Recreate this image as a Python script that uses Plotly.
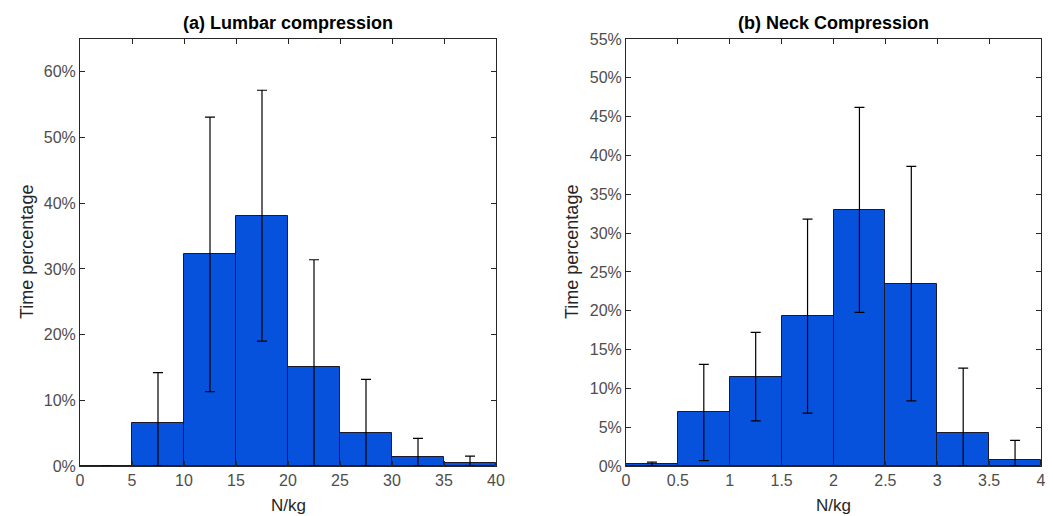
import plotly.graph_objects as go

# Panel (a) Lumbar compression
lumbar_centers = [2.5, 7.5, 12.5, 17.5, 22.5, 27.5, 32.5, 37.5]
lumbar_pct = [0.0, 6.6, 32.2, 38.1, 15.1, 5.1, 1.3, 0.5]
lumbar_err = [0.0, 7.6, 20.9, 19.1, 16.3, 8.1, 2.9, 1.0]

# Panel (b) Neck compression
neck_centers = [0.25, 0.75, 1.25, 1.75, 2.25, 2.75, 3.25, 3.75]
neck_pct = [0.2, 6.9, 11.5, 19.3, 33.0, 23.5, 4.3, 0.8]
neck_err = [0.3, 6.2, 5.7, 12.5, 13.2, 15.1, 8.3, 2.5]

lumbar_xticks = [0, 5, 10, 15, 20, 25, 30, 35, 40]
neck_xticks = [0, 0.5, 1, 1.5, 2, 2.5, 3, 3.5, 4]
neck_xticklabels = ["0", "0.5", "1", "1.5", "2", "2.5", "3", "3.5", "4"]
lumbar_yticks = [0, 10, 20, 30, 40, 50, 60]
lumbar_yticklabels = ["0%", "10%", "20%", "30%", "40%", "50%", "60%"]
neck_yticks = [0, 5, 10, 15, 20, 25, 30, 35, 40, 45, 50, 55]
neck_yticklabels = ["0%", "5%", "10%", "15%", "20%", "25%", "30%", "35%",
                    "40%", "45%", "50%", "55%"]

BAR = "#0752dc"
FONT = "Liberation Sans, Arial, sans-serif"
TICKC = "#4d4d4d"
AXC = "#262626"

# page body has an 8px default margin; size the figure to fit the window
OFF = 8
W, H = 1053 - OFF, 516 - OFF

def px(x):
    return (x - OFF) / W

def py(y):
    return 1 - (y - OFF) / H

fig = go.Figure()

def add_panel(centers, vals, errs, width, xa, ya):
    minus = [min(e, v) for e, v in zip(errs, vals)]
    fig.add_trace(go.Bar(
        x=centers, y=vals, width=width,
        marker=dict(color=BAR, line=dict(color="#1a1a2a", width=1)),
        error_y=dict(type="data", array=errs, arrayminus=minus, visible=True,
                     color="black", thickness=1.2, width=5),
        xaxis=xa, yaxis=ya, showlegend=False, hoverinfo="skip",
    ))

add_panel(lumbar_centers, lumbar_pct, lumbar_err, 5, "x", "y")
add_panel(neck_centers, neck_pct, neck_err, 0.5, "x2", "y2")

ax_common = dict(showgrid=False, zeroline=False, showline=True, linecolor=AXC,
                 linewidth=1, mirror="ticks", ticks="inside", ticklen=5,
                 tickcolor=AXC, automargin=False,
                 tickfont=dict(family=FONT, size=16, color=TICKC))

ydom = [py(466), py(39)]
fig.update_layout(
    template="none",
    width=W, height=H,
    margin=dict(l=0, r=0, t=0, b=0, autoexpand=False),
    paper_bgcolor="white", plot_bgcolor="white",
    bargap=0,
    xaxis=dict(domain=[px(80), px(496)], range=[0, 40], tickmode="array",
               tickvals=lumbar_xticks, ticktext=[str(t) for t in lumbar_xticks],
               anchor="y", **ax_common),
    yaxis=dict(domain=ydom, range=[0, 65], tickmode="array", tickvals=lumbar_yticks,
               ticktext=lumbar_yticklabels, anchor="x", **ax_common),
    xaxis2=dict(domain=[px(626), px(1041)], range=[0, 4], tickmode="array",
                tickvals=neck_xticks, ticktext=neck_xticklabels, anchor="y2", **ax_common),
    yaxis2=dict(domain=ydom, range=[0, 55], tickmode="array", tickvals=neck_yticks,
                ticktext=neck_yticklabels, anchor="x2", **ax_common),
)

ann = []
for cx, title in [((80+496)/2, "<b>(a) Lumbar compression</b>"),
                  ((626+1041)/2, "<b>(b) Neck Compression</b>")]:
    ann.append(dict(x=px(cx), y=py(23), xref="paper", yref="paper", text=title,
                    showarrow=False, font=dict(family=FONT, size=18, color="black"),
                    xanchor="center", yanchor="middle"))
    ann.append(dict(x=px(cx), y=py(505), xref="paper", yref="paper", text="N/kg",
                    showarrow=False, font=dict(family=FONT, size=17, color=AXC),
                    xanchor="center", yanchor="middle"))
for cx in [27, 572]:
    ann.append(dict(x=px(cx), y=py(252), xref="paper", yref="paper", text="Time percentage",
                    showarrow=False, textangle=-90,
                    font=dict(family=FONT, size=18, color=AXC),
                    xanchor="center", yanchor="middle"))
fig.update_layout(annotations=ann)

fig.write_html("out.html")
